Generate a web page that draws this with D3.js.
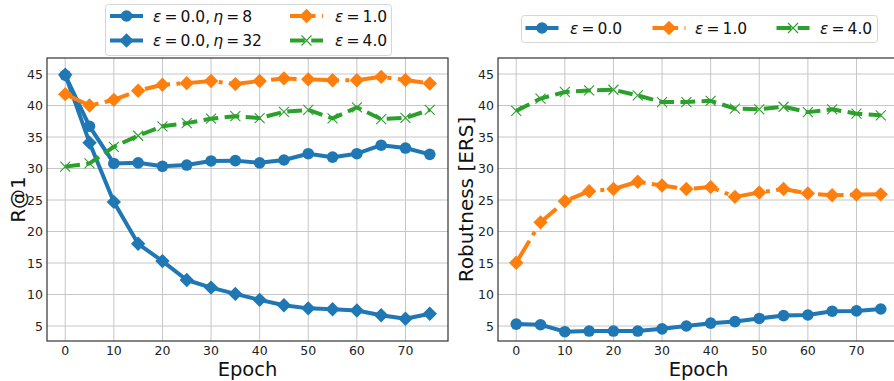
<!DOCTYPE html>
<html>
<head>
<meta charset="utf-8">
<script src="https://cdn.jsdelivr.net/npm/d3@7"></script>
<style>
  body { margin: 0; background: #fff; }
  svg { display: block; font-family: "DejaVu Sans", sans-serif; }
</style>
</head>
<body>
<div id="chart"></div>
<script>
// ----- data -----
const epochs = [0, 5, 10, 15, 20, 25, 30, 35, 40, 45, 50, 55, 60, 65, 70, 75];
const xTicks = [0, 10, 20, 30, 40, 50, 60, 70];
const yTicks = [5, 10, 15, 20, 25, 30, 35, 40, 45];

// left panel: R@1
const r1Eta8  = [44.8, 36.7, 30.8, 30.9, 30.35, 30.55, 31.2, 31.25, 30.9, 31.35, 32.35, 31.8, 32.35, 33.7, 33.25, 32.25];
const r1Eta32 = [44.9, 34.1, 24.7, 18.05, 15.3, 12.3, 11.1, 10.1, 9.15, 8.3, 7.8, 7.65, 7.45, 6.7, 6.15, 6.95];
const r1Eps1  = [41.8, 40.0, 40.9, 42.35, 43.3, 43.55, 43.9, 43.4, 43.9, 44.3, 44.15, 44.0, 44.0, 44.55, 44.05, 43.5];
const r1Eps4  = [30.3, 30.8, 33.45, 35.2, 36.7, 37.2, 37.9, 38.3, 38.0, 39.0, 39.3, 37.95, 39.7, 37.85, 38.05, 39.3];

// right panel: Robustness [ERS]
const ersEps0 = [5.3, 5.2, 4.1, 4.2, 4.2, 4.2, 4.55, 5.0, 5.45, 5.7, 6.2, 6.65, 6.75, 7.35, 7.4, 7.7];
const ersEps1 = [15.05, 21.45, 24.8, 26.4, 26.75, 27.9, 27.3, 26.75, 27.05, 25.5, 26.2, 26.75, 26.05, 25.75, 25.85, 25.9];
const ersEps4 = [39.15, 41.1, 42.15, 42.4, 42.5, 41.6, 40.55, 40.55, 40.75, 39.5, 39.4, 39.8, 38.95, 39.4, 38.7, 38.45];

const BLUE = '#1f77b4', ORANGE = '#ff7f0e', GREEN = '#2ca02c';
const LW = 4;
const DASHED = [14.8, 6.4].join(',');
const DASHDOT = [25.6, 6.4, 4, 6.4].join(',');

const W = 894, H = 381;
const svg = d3.select('#chart').append('svg')
  .attr('width', W).attr('height', H);

const panels = [
  {
    left: 47, top: 58, width: 401, height: 283, ylabel: 'R@1', ylabelX: 25,
    series: [
      { values: r1Eta8, color: BLUE, marker: 'circle', dash: null },
      { values: r1Eta32, color: BLUE, marker: 'diamond', dash: null },
      { values: r1Eps1, color: ORANGE, marker: 'diamond', dash: DASHDOT },
      { values: r1Eps4, color: GREEN, marker: 'x', dash: DASHED }
    ]
  },
  {
    left: 498, top: 58, width: 401, height: 283, ylabel: 'Robutness [ERS]', ylabelX: 473,
    series: [
      { values: ersEps0, color: BLUE, marker: 'circle', dash: null },
      { values: ersEps1, color: ORANGE, marker: 'diamond', dash: DASHDOT },
      { values: ersEps4, color: GREEN, marker: 'x', dash: DASHED }
    ]
  }
];

function drawMarker(g, type, color, x, y) {
  if (type === 'circle') {
    g.append('circle').attr('cx', x).attr('cy', y).attr('r', 5.8).attr('fill', color);
  } else if (type === 'diamond') {
    const s = 7.2;
    g.append('path')
      .attr('d', `M${x},${y - s}L${x + s},${y}L${x},${y + s}L${x - s},${y}Z`)
      .attr('fill', color);
  } else {
    const s = 5;
    g.append('path')
      .attr('d', `M${x - s},${y - s}L${x + s},${y + s}M${x - s},${y + s}L${x + s},${y - s}`)
      .attr('stroke', color).attr('stroke-width', 1.1).attr('fill', 'none');
  }
}

panels.forEach((p, i) => {
  const x = d3.scaleLinear().domain([-3.75, 78.75]).range([p.left, p.left + p.width]);
  const y = d3.scaleLinear().domain([2.62, 47.54]).range([p.top + p.height, p.top]);

  const g = svg.append('g');
  const clipId = 'clip' + i;
  svg.append('clipPath').attr('id', clipId)
    .append('rect').attr('x', p.left).attr('y', p.top).attr('width', p.width).attr('height', p.height);

  // grid
  g.selectAll('.gx').data(xTicks).join('line')
    .attr('x1', d => x(d)).attr('x2', d => x(d))
    .attr('y1', p.top).attr('y2', p.top + p.height)
    .attr('stroke', '#c6c6c6').attr('stroke-width', 1);
  g.selectAll('.gy').data(yTicks).join('line')
    .attr('x1', p.left).attr('x2', p.left + p.width)
    .attr('y1', d => y(d)).attr('y2', d => y(d))
    .attr('stroke', '#c6c6c6').attr('stroke-width', 1);

  // tick labels
  g.selectAll('.tx').data(xTicks).join('text')
    .attr('x', d => x(d)).attr('y', p.top + p.height + 13.5)
    .attr('text-anchor', 'middle').attr('font-size', 12.5).attr('fill', '#222')
    .text(d => d);
  g.selectAll('.ty').data(yTicks).join('text')
    .attr('x', p.left - 4).attr('y', d => y(d) + 4.5)
    .attr('text-anchor', 'end').attr('font-size', 12.5).attr('fill', '#222')
    .text(d => d);

  // axis labels
  g.append('text')
    .attr('x', p.left + p.width / 2)
    .attr('y', 375.5).attr('text-anchor', 'middle').attr('font-size', 19.5).attr('fill', '#111')
    .text('Epoch');
  g.append('text')
    .attr('transform', `translate(${p.ylabelX},${p.top + p.height / 2}) rotate(-90)`)
    .attr('text-anchor', 'middle').attr('font-size', 20).attr('fill', '#111')
    .text(p.ylabel);

  // series
  const plot = g.append('g').attr('clip-path', `url(#${clipId})`);
  const line = d3.line().x((d, k) => x(epochs[k])).y(d => y(d));
  p.series.forEach(s => {
    plot.append('path').datum(s.values)
      .attr('d', line)
      .attr('fill', 'none').attr('stroke', s.color).attr('stroke-width', LW)
      .attr('stroke-linejoin', 'round')
      .attr('stroke-dasharray', s.dash);
    s.values.forEach((v, k) => drawMarker(plot, s.marker, s.color, x(epochs[k]), y(v)));
  });

  // frame
  g.append('rect')
    .attr('x', p.left).attr('y', p.top).attr('width', p.width).attr('height', p.height)
    .attr('fill', 'none').attr('stroke', '#333').attr('stroke-width', 1.2);
});

// ----- legends -----
function legendLabel(g, x, y, rest) {
  const t = g.append('text').attr('x', x).attr('y', y + 5.5)
    .attr('font-size', 15.5).attr('fill', '#111');
  t.append('tspan').attr('font-style', 'italic').text('ε');
  rest.forEach(part => {
    t.append('tspan').attr('font-style', part.italic ? 'italic' : 'normal').text(part.text);
  });
}

function legendHandle(g, cx, cy, color, marker, dash) {
  g.append('line')
    .attr('x1', cx - 16.5).attr('x2', cx + 16.5).attr('y1', cy).attr('y2', cy)
    .attr('stroke', color).attr('stroke-width', LW).attr('stroke-dasharray', dash);
  drawMarker(g, marker, color, cx, cy);
}

const leftLegend = [
  { cx: 126.5, cy: 16, color: BLUE, marker: 'circle', dash: null, tx: 153,
    rest: [{ text: '\u2009=\u20090.0,\u2009' }, { text: 'η', italic: true }, { text: '\u2009=\u20098' }] },
  { cx: 126.5, cy: 40.5, color: BLUE, marker: 'diamond', dash: null, tx: 153,
    rest: [{ text: '\u2009=\u20090.0,\u2009' }, { text: 'η', italic: true }, { text: '\u2009=\u200932' }] },
  { cx: 306.5, cy: 16, color: ORANGE, marker: 'diamond', dash: DASHDOT, tx: 335,
    rest: [{ text: '\u2009=\u20091.0' }] },
  { cx: 306.5, cy: 40.5, color: GREEN, marker: 'x', dash: DASHED, tx: 335,
    rest: [{ text: '\u2009=\u20094.0' }] }
];
const rightLegend = [
  { cx: 542, cy: 28, color: BLUE, marker: 'circle', dash: null, tx: 570, rest: [{ text: '\u2009=\u20090.0' }] },
  { cx: 669, cy: 28, color: ORANGE, marker: 'diamond', dash: DASHDOT, tx: 695, rest: [{ text: '\u2009=\u20091.0' }] },
  { cx: 793, cy: 28, color: GREEN, marker: 'x', dash: DASHED, tx: 820, rest: [{ text: '\u2009=\u20094.0' }] }
];

[[leftLegend, [105, 4, 286, 51]], [rightLegend, [521, 15, 356, 27]]].forEach(([items, box]) => {
  const lg = svg.append('g');
  lg.append('rect')
    .attr('x', box[0] + 0.5).attr('y', box[1] + 0.5).attr('width', box[2]).attr('height', box[3])
    .attr('rx', 3).attr('fill', 'rgba(255,255,255,0.8)').attr('stroke', '#d6d6d6');
  items.forEach(it => {
    legendHandle(lg, it.cx, it.cy, it.color, it.marker, it.dash);
    legendLabel(lg, it.tx, it.cy, it.rest);
  });
});
</script>
</body>
</html>
